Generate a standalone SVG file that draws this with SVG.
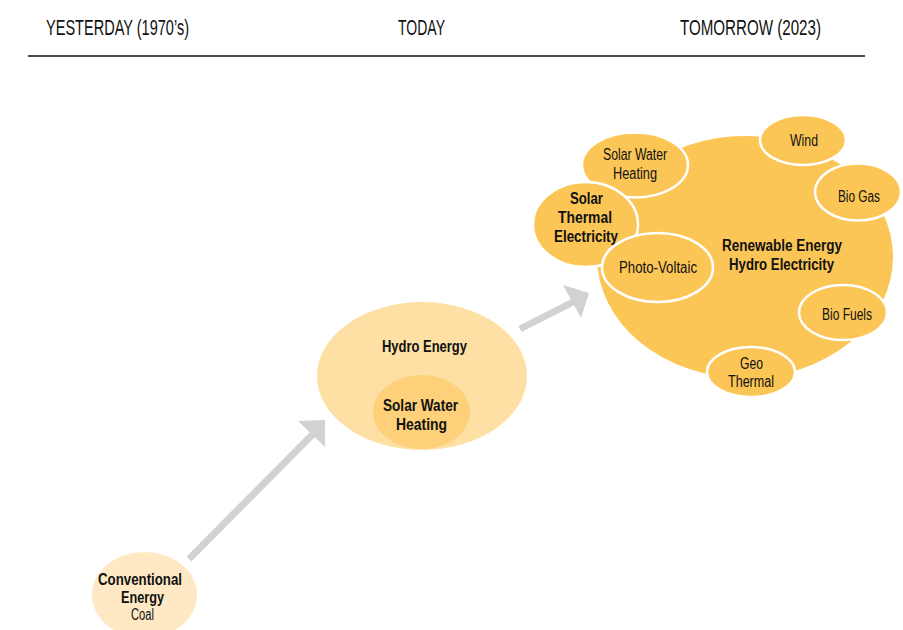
<svg xmlns="http://www.w3.org/2000/svg" width="903" height="630" viewBox="0 0 903 630">
  <style>
    text { font-family: "Liberation Sans", Arial, sans-serif; fill: #111; text-anchor: middle; }
    .hd { font-size: 21.5px; }
    .lb { font-size: 16px; }
    .b { font-weight: bold; }
    .sat { stroke: #ffffff; stroke-width: 2.5; fill: #fbc656; }
    .shaft { stroke: #d1d2d4; stroke-width: 7; fill: none; }
    .head { fill: #d1d2d4; }
  </style>
  <rect width="903" height="630" fill="#ffffff"/>

  <!-- timeline header -->
  <g id="header">
    <text class="hd" x="117.5" y="35" textLength="143" lengthAdjust="spacingAndGlyphs">YESTERDAY (1970’s)</text>
    <text class="hd" x="421.5" y="35" textLength="47" lengthAdjust="spacingAndGlyphs">TODAY</text>
    <text class="hd" x="750.5" y="35" textLength="141" lengthAdjust="spacingAndGlyphs">TOMORROW (2023)</text>
    <line x1="28" y1="56" x2="865" y2="56" stroke="#111" stroke-width="1.5"/>
  </g>

  <!-- progression arrows -->
  <g id="connectors">
    <line class="shaft" x1="189" y1="559" x2="313" y2="434"/>
    <polygon class="head" points="325,420 298,421 325,447"/>
    <line class="shaft" x1="520" y1="329" x2="575" y2="301"/>
    <polygon class="head" points="589,293 563,285 581,318"/>
  </g>

  <g id="conventional">
    <ellipse cx="144.5" cy="595" rx="52.5" ry="43" fill="#fee9c4"/>
    <text class="lb b" x="140" y="585" textLength="84" lengthAdjust="spacingAndGlyphs">Conventional</text>
    <text class="lb b" x="142.5" y="603" textLength="43" lengthAdjust="spacingAndGlyphs">Energy</text>
    <text class="lb" x="142.5" y="620" textLength="23" lengthAdjust="spacingAndGlyphs">Coal</text>
  </g>

  <g id="today">
    <ellipse cx="422" cy="376" rx="105" ry="74" fill="#fee0a4"/>
    <text class="lb b" x="424.5" y="352" textLength="85" lengthAdjust="spacingAndGlyphs">Hydro Energy</text>
    <g id="today-solar-water">
      <ellipse cx="421.5" cy="412" rx="48.5" ry="37" fill="#fdd079"/>
      <text class="lb b" x="420.5" y="411" textLength="75" lengthAdjust="spacingAndGlyphs">Solar Water</text>
      <text class="lb b" x="421.5" y="430" textLength="51" lengthAdjust="spacingAndGlyphs">Heating</text>
    </g>
  </g>

  <g id="tomorrow">
    <ellipse cx="745" cy="257" rx="148" ry="121" fill="#fbc656"/>
    <text class="lb b" x="782" y="251" textLength="120" lengthAdjust="spacingAndGlyphs">Renewable Energy</text>
    <text class="lb b" x="781.5" y="270" textLength="105" lengthAdjust="spacingAndGlyphs">Hydro Electricity</text>
  </g>

  <g id="solar-water-heating">
    <ellipse class="sat" cx="635" cy="165" rx="53" ry="32.5"/>
    <text class="lb" x="635" y="160" textLength="64" lengthAdjust="spacingAndGlyphs">Solar Water</text>
    <text class="lb" x="635" y="179" textLength="44" lengthAdjust="spacingAndGlyphs">Heating</text>
  </g>

  <g id="wind">
    <ellipse class="sat" cx="803" cy="140" rx="43" ry="25"/>
    <text class="lb" x="804" y="146" textLength="28" lengthAdjust="spacingAndGlyphs">Wind</text>
  </g>

  <g id="bio-gas">
    <ellipse class="sat" cx="858" cy="192" rx="43" ry="28.5"/>
    <text class="lb" x="859" y="202" textLength="42" lengthAdjust="spacingAndGlyphs">Bio Gas</text>
  </g>

  <g id="solar-thermal">
    <ellipse class="sat" cx="585.5" cy="224.5" rx="52.5" ry="42.5"/>
    <text class="lb b" x="586.5" y="204" textLength="33" lengthAdjust="spacingAndGlyphs">Solar</text>
    <text class="lb b" x="585" y="223" textLength="54" lengthAdjust="spacingAndGlyphs">Thermal</text>
    <text class="lb b" x="586" y="242" textLength="64" lengthAdjust="spacingAndGlyphs">Electricity</text>
  </g>

  <g id="photo-voltaic">
    <ellipse class="sat" cx="657.5" cy="267.5" rx="55.5" ry="34.5"/>
    <text class="lb" x="658" y="273" textLength="78" lengthAdjust="spacingAndGlyphs">Photo-Voltaic</text>
  </g>

  <g id="bio-fuels">
    <ellipse class="sat" cx="843" cy="312.5" rx="44" ry="27.5"/>
    <text class="lb" x="847" y="320" textLength="50" lengthAdjust="spacingAndGlyphs">Bio Fuels</text>
  </g>

  <g id="geo-thermal">
    <ellipse class="sat" cx="751" cy="372" rx="44" ry="25"/>
    <text class="lb" x="751.5" y="369" textLength="23" lengthAdjust="spacingAndGlyphs">Geo</text>
    <text class="lb" x="751" y="387" textLength="46" lengthAdjust="spacingAndGlyphs">Thermal</text>
  </g>
</svg>
